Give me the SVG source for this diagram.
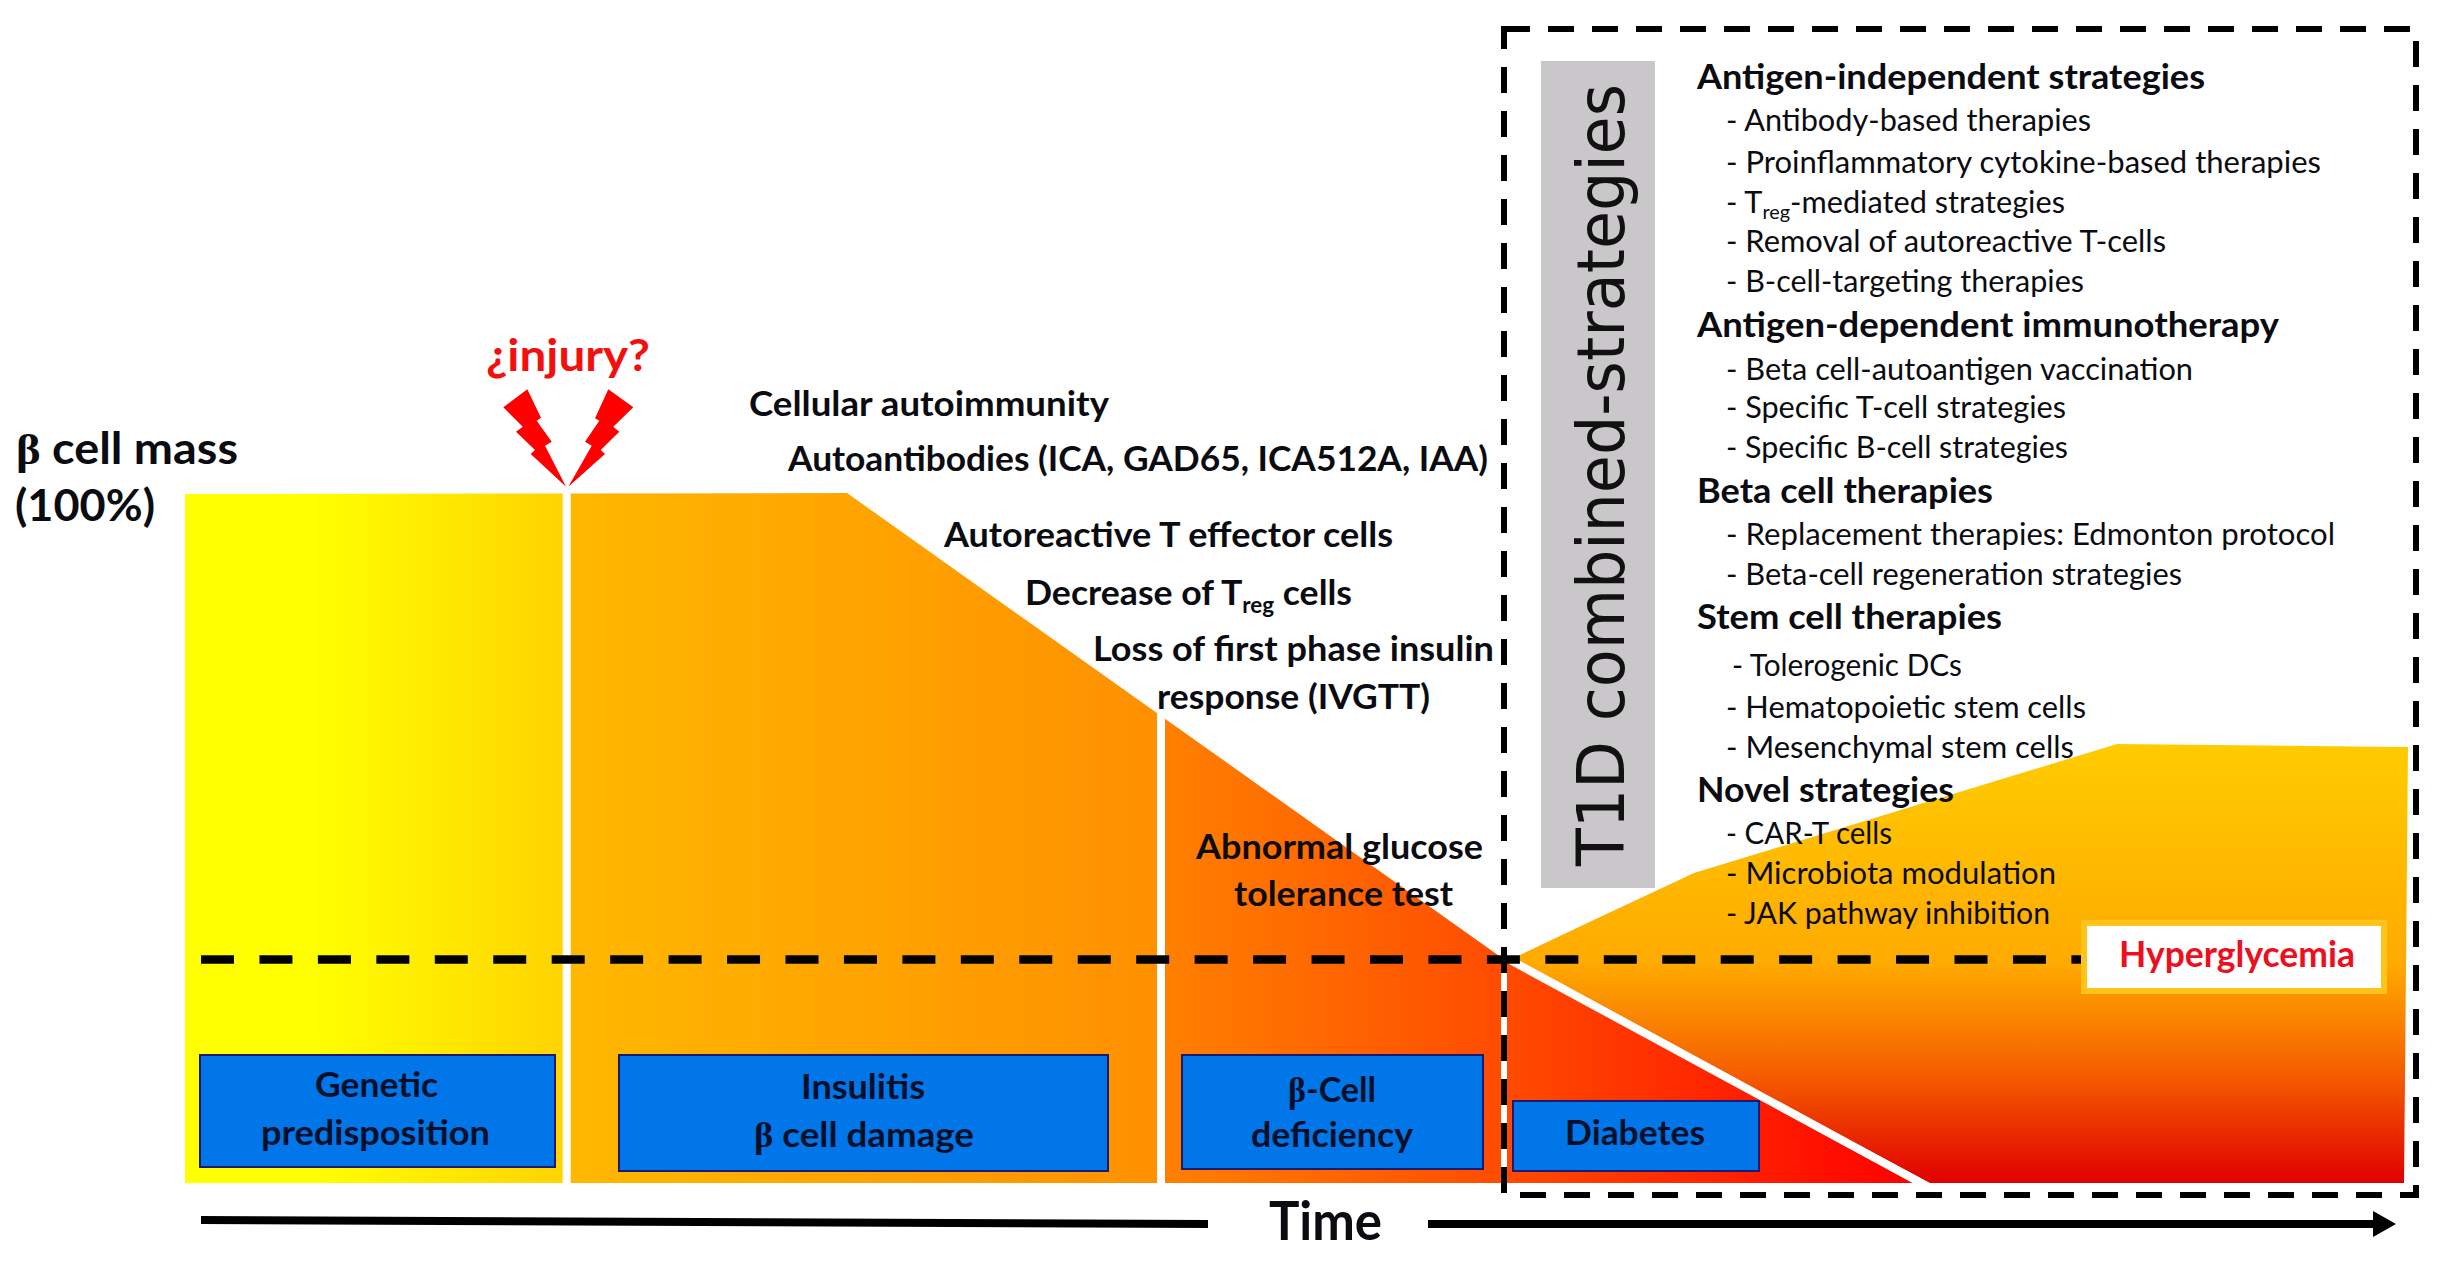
<svg xmlns="http://www.w3.org/2000/svg" width="2449" height="1264" viewBox="0 0 2449 1264">
<style>
text{font-family:Lato,"Noto Sans","Liberation Sans",sans-serif;fill:#0b0b12}
.l{font-size:35px;font-weight:700}
.b{font-size:35px;font-weight:700;fill:#04102a}
.h{font-size:35px;font-weight:700}
.i{font-size:31px;font-weight:400}
.sym{font-family:"Liberation Serif","DejaVu Serif",serif;font-weight:700}
.sub{font-size:22px}
.box{fill:#0076e8;stroke:#1b1a72;stroke-width:2}
.dash{fill:none;stroke:#000;stroke-width:8.5}
.div{fill:none;stroke:#fff}
</style>
<defs>
<linearGradient id="gm" gradientUnits="userSpaceOnUse" x1="185" y1="0" x2="1912" y2="0">
<stop offset="0" stop-color="#ffff00"/><stop offset="0.075" stop-color="#ffff00"/><stop offset="0.2206" stop-color="#ffd300"/><stop offset="0.2229" stop-color="#ffb800"/><stop offset="0.356" stop-color="#ffa800"/><stop offset="0.563" stop-color="#ff9000"/><stop offset="0.5675" stop-color="#ff8000"/><stop offset="0.761" stop-color="#ff4c00"/><stop offset="1" stop-color="#ff0000"/>
</linearGradient>
<linearGradient id="gr" gradientUnits="userSpaceOnUse" x1="0" y1="744" x2="0" y2="1183">
<stop offset="0" stop-color="#ffcc00"/><stop offset="0.5" stop-color="#ffaa00"/><stop offset="0.75" stop-color="#f55e00"/><stop offset="1" stop-color="#e00000"/>
</linearGradient>
<marker id="ah" markerUnits="userSpaceOnUse" markerWidth="24" markerHeight="26" refX="1" refY="13" orient="auto"><path d="M0 0L23 13L0 26Z" fill="#000"/></marker>
</defs>

<g id="curve">
<polygon points="185,494 847,493 1502,958 1913,1183 185,1183" fill="url(#gm)"/>
<polygon points="1520,955 1600,917 1694,873 2117,744 2408,747 2404,1183 1930,1183 1510,960" fill="url(#gr)"/>
<path class="div" stroke-width="8" d="M566.7 490V1183M1161 710V1183"/>
<path class="div" stroke-width="6" d="M1504 960V1190"/>
<path class="div" stroke-width="8" d="M1510 960L1921 1183"/>
</g>

<g id="box-t1d"><rect x="1504" y="29" width="912" height="1166" fill="none" stroke="#000" stroke-width="6" stroke-dasharray="26 18"/></g>
<g id="t1d-title"><rect x="1541" y="61" width="114" height="827" fill="#c9c7c9"/>
<text transform="translate(1624 866) rotate(-90)" font-size="66" textLength="782" lengthAdjust="spacingAndGlyphs" style="font-family:'DejaVu Sans',sans-serif;fill:#111">T1D combined-strategies</text></g>

<g id="connectors">
<path class="dash" stroke-dasharray="33 25.45" d="M201 959.5H2085"/>
<line x1="201" y1="1220" x2="1208" y2="1224" stroke="#000" stroke-width="8"/>
<line x1="1428" y1="1224" x2="2374" y2="1224" stroke="#000" stroke-width="8" marker-end="url(#ah)"/>
</g>

<g id="injury">
<polygon fill="#f00" points="503.3,407.3 527.3,389.3 541,417.7 536.7,420.7 551.7,441.7 545,445.7 566,486.7 530.7,454 535,450 516,431.7 522.7,426.7"/>
<polygon fill="#f00" points="633.3,407.3 608.3,389.3 595,418.3 599.3,420.7 585,441.7 591.7,445.7 568.3,486.7 605,454 600.7,450 619.3,431.7 613.3,426.7"/>
<text x="486" y="371" font-size="43" font-weight="700" textLength="164" lengthAdjust="spacingAndGlyphs" style="fill:#f40f0f">¿injury?</text>
</g>
<g id="mass">
<text x="16" y="464" font-size="43" font-weight="700" textLength="222" lengthAdjust="spacingAndGlyphs"><tspan class="sym">β</tspan> cell mass</text>
<text x="15" y="521" font-size="43" font-weight="700" textLength="140" lengthAdjust="spacingAndGlyphs">(100%)</text>
</g>
<g id="markers">
<text class="l" x="749" y="416" textLength="360" lengthAdjust="spacingAndGlyphs">Cellular autoimmunity</text>
<text class="l" x="788" y="471" textLength="700" lengthAdjust="spacingAndGlyphs">Autoantibodies (ICA, GAD65, ICA512A, IAA)</text>
<text class="l" x="944" y="547" textLength="449" lengthAdjust="spacingAndGlyphs">Autoreactive T effector cells</text>
<text class="l" x="1025" y="605" textLength="327" lengthAdjust="spacingAndGlyphs">Decrease of T<tspan class="sub" dy="8">reg</tspan><tspan dy="-8"> cells</tspan></text>
<text class="l" x="1093" y="661" textLength="401" lengthAdjust="spacingAndGlyphs">Loss of first phase insulin</text>
<text class="l" x="1157" y="709" textLength="273" lengthAdjust="spacingAndGlyphs">response (IVGTT)</text>
<text class="l" x="1196" y="859" textLength="287" lengthAdjust="spacingAndGlyphs">Abnormal glucose</text>
<text class="l" x="1234" y="906" textLength="219" lengthAdjust="spacingAndGlyphs">tolerance test</text>
</g>
<g id="node-genetic"><rect class="box" x="200" y="1055" width="355" height="112"/>
<text class="b" x="315" y="1097" textLength="123" lengthAdjust="spacingAndGlyphs">Genetic</text>
<text class="b" x="261" y="1145" textLength="229" lengthAdjust="spacingAndGlyphs">predisposition</text></g>
<g id="node-insulitis"><rect class="box" x="619" y="1055" width="489" height="116"/>
<text class="b" x="801" y="1099" textLength="124" lengthAdjust="spacingAndGlyphs">Insulitis</text>
<text class="b" x="754" y="1147" textLength="220" lengthAdjust="spacingAndGlyphs"><tspan class="sym">β</tspan> cell damage</text></g>
<g id="node-deficiency"><rect class="box" x="1182" y="1055" width="301" height="114"/>
<text class="b" x="1288" y="1102" textLength="88" lengthAdjust="spacingAndGlyphs"><tspan class="sym">β</tspan>-Cell</text>
<text class="b" x="1251" y="1147" textLength="162" lengthAdjust="spacingAndGlyphs">deficiency</text></g>
<g id="node-diabetes"><rect class="box" x="1513" y="1101" width="246" height="70"/>
<text class="b" x="1565" y="1145" textLength="140" lengthAdjust="spacingAndGlyphs">Diabetes</text></g>
<g id="node-hyperglycemia"><rect x="2084" y="923" width="300" height="68" fill="#fff" stroke="#ffc31a" stroke-width="6"/>
<text x="2119" y="967" font-size="36" font-weight="700" textLength="236" lengthAdjust="spacingAndGlyphs" style="fill:#ee0f1e">Hyperglycemia</text></g>
<g id="node-time"><text x="1269" y="1240" font-size="54" font-weight="700" textLength="113" lengthAdjust="spacingAndGlyphs">Time</text></g>

<g id="strategies">
<text class="h" x="1697" y="89" textLength="508" lengthAdjust="spacingAndGlyphs">Antigen-independent strategies</text>
<text class="i" x="1726" y="131" textLength="365" lengthAdjust="spacingAndGlyphs">- Antibody-based therapies</text>
<text class="i" x="1726" y="173" textLength="595" lengthAdjust="spacingAndGlyphs">- Proinflammatory cytokine-based therapies</text>
<text class="i" x="1726" y="213" textLength="339" lengthAdjust="spacingAndGlyphs">- T<tspan font-size="20" dy="6">reg</tspan><tspan dy="-6">-mediated strategies</tspan></text>
<text class="i" x="1726" y="252" textLength="440" lengthAdjust="spacingAndGlyphs">- Removal of autoreactive T-cells</text>
<text class="i" x="1726" y="292" textLength="358" lengthAdjust="spacingAndGlyphs">- B-cell-targeting therapies</text>
<text class="h" x="1697" y="337" textLength="582" lengthAdjust="spacingAndGlyphs">Antigen-dependent immunotherapy</text>
<text class="i" x="1726" y="380" textLength="467" lengthAdjust="spacingAndGlyphs">- Beta cell-autoantigen vaccination</text>
<text class="i" x="1726" y="418" textLength="340" lengthAdjust="spacingAndGlyphs">- Specific T-cell strategies</text>
<text class="i" x="1726" y="458" textLength="342" lengthAdjust="spacingAndGlyphs">- Specific B-cell strategies</text>
<text class="h" x="1697" y="503" textLength="296" lengthAdjust="spacingAndGlyphs">Beta cell therapies</text>
<text class="i" x="1726" y="545" textLength="609" lengthAdjust="spacingAndGlyphs">- Replacement therapies: Edmonton protocol</text>
<text class="i" x="1726" y="585" textLength="456" lengthAdjust="spacingAndGlyphs">- Beta-cell regeneration strategies</text>
<text class="h" x="1697" y="629" textLength="305" lengthAdjust="spacingAndGlyphs">Stem cell therapies</text>
<text class="i" x="1732" y="676" textLength="230" lengthAdjust="spacingAndGlyphs">- Tolerogenic DCs</text>
<text class="i" x="1726" y="718" textLength="360" lengthAdjust="spacingAndGlyphs">- Hematopoietic stem cells</text>
<text class="i" x="1726" y="758" textLength="348" lengthAdjust="spacingAndGlyphs">- Mesenchymal stem cells</text>
<text class="h" x="1697" y="802" textLength="257" lengthAdjust="spacingAndGlyphs">Novel strategies</text>
<text class="i" x="1726" y="844" textLength="166" lengthAdjust="spacingAndGlyphs">- CAR-T cells</text>
<text class="i" x="1726" y="884" textLength="330" lengthAdjust="spacingAndGlyphs">- Microbiota modulation</text>
<text class="i" x="1726" y="924" textLength="324" lengthAdjust="spacingAndGlyphs">- JAK pathway inhibition</text>
</g>
</svg>
